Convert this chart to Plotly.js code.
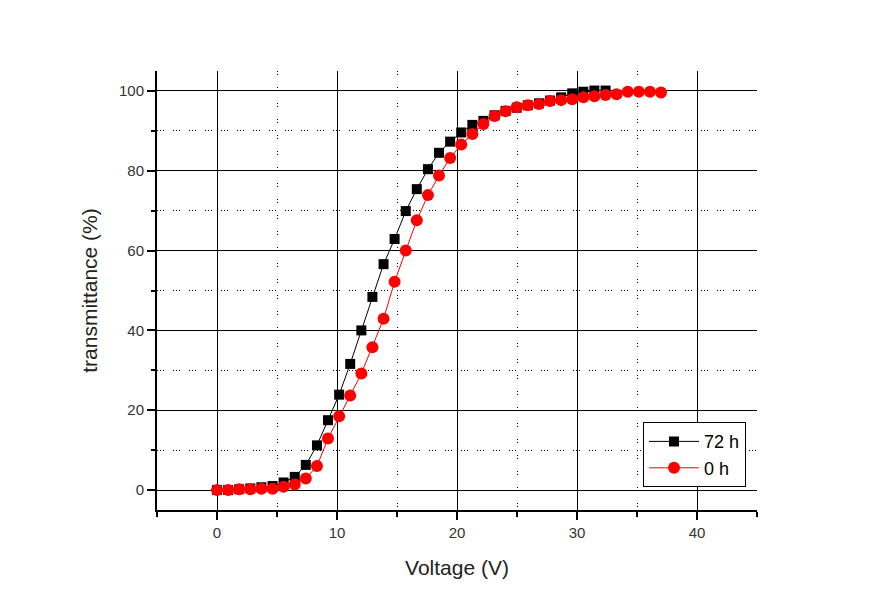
<!DOCTYPE html>
<html>
<head>
<meta charset="utf-8">
<script src="https://cdn.plot.ly/plotly-3.0.1.min.js"></script>
<style>
  html, body { margin: 0; padding: 0; background: #fff; }
  #myPlot { width: 877px; height: 613px; }
</style>
</head>
<body>
<div id="myPlot"></div>
<script>
// voltage steps (V)
var voltage = [0, 0.93, 1.85, 2.78, 3.7, 4.63, 5.55, 6.48, 7.4, 8.33,
               9.25, 10.18, 11.1, 12.03, 12.95, 13.88, 14.8, 15.73, 16.65, 17.58,
               18.5, 19.43, 20.35, 21.28, 22.2, 23.13, 24.05, 24.98, 25.9, 26.83,
               27.75, 28.68, 29.6, 30.53, 31.45, 32.38, 33.3, 34.23, 35.15, 36.08, 37];

// transmittance after 72 h
var t72 = [0, 0, 0.2, 0.4, 0.7, 1.0, 1.9, 3.3, 6.3, 11.2,
           17.5, 23.9, 31.6, 40.0, 48.4, 56.6, 62.9, 69.9, 75.4, 80.4,
           84.5, 87.3, 89.6, 91.5, 92.5, 93.9, 95.0, 95.8, 96.4, 96.9,
           97.6, 98.4, 99.4, 99.8, 100.1, 100.1];

// transmittance at 0 h
var t0 = [0, 0, 0.2, 0.2, 0.3, 0.3, 0.8, 1.4, 2.9, 6.0,
          12.9, 18.5, 23.7, 29.2, 35.8, 42.9, 52.2, 60.0, 67.6, 73.9,
          78.8, 83.2, 86.6, 89.2, 91.7, 93.7, 94.9, 95.9, 96.4, 96.7,
          97.5, 97.7, 97.9, 98.4, 98.7, 99.0, 99.2, 99.8, 99.8, 99.8, 99.6];

var seriesNames = ["72 h", "0 h"];

function draw_chart() {
    var font = "Arial, 'Liberation Sans', sans-serif";

    var data = [{
        x: voltage.slice(0, t72.length),
        y: t72,
        name: seriesNames[0],
        mode: "lines+markers",
        line: { color: "black", width: 1 },
        marker: { symbol: "square", size: 10, color: "black" }
    }, {
        x: voltage,
        y: t0,
        name: seriesNames[1],
        mode: "lines+markers",
        line: { color: "red", width: 1 },
        marker: { symbol: "circle", size: 12, color: "red" }
    }];

    var axisCommon = {
        showline: true,
        linecolor: "black",
        linewidth: 2,
        mirror: false,
        ticks: "outside",
        ticklen: 8,
        tickwidth: 2,
        tickcolor: "black",
        showgrid: true,
        gridcolor: "black",
        gridwidth: 1,
        zeroline: false,
        tickfont: { family: font, size: 15, color: "#333" }
    };

    var layout = {
        width: 877,
        height: 613,
        margin: { l: 157, r: 120, t: 71, b: 103 },
        paper_bgcolor: "white",
        plot_bgcolor: "white",
        font: { family: font, color: "black" },
        xaxis: Object.assign({}, axisCommon, {
            range: [-5, 45],
            dtick: 10,
            tick0: 0,
            minor: { dtick: 5, ticks: "outside", ticklen: 5, tickwidth: 2, tickcolor: "black",
                     showgrid: true, gridcolor: "black", gridwidth: 1, griddash: "1px,2px,1px,12px" },
            title: { text: "Voltage (V)", font: { family: font, size: 21, color: "#222" }, standoff: 20 }
        }),
        yaxis: Object.assign({}, axisCommon, {
            range: [-5, 105],
            dtick: 20,
            tick0: 0,
            minor: { dtick: 10, ticks: "outside", ticklen: 4, tickwidth: 2, tickcolor: "black",
                     showgrid: true, gridcolor: "black", gridwidth: 1, griddash: "1px,2px,1px,2px,1px,9px" },
            title: { text: "transmittance (%)", font: { family: font, size: 21, color: "#222" }, standoff: 16 }
        }),
        showlegend: true,
        legend: {
            x: 0.81, y: 0.2,
            xanchor: "left", yanchor: "top",
            bgcolor: "white",
            bordercolor: "black",
            borderwidth: 1,
            itemwidth: 50,
            font: { family: font, size: 18, color: "black" },
            tracegroupgap: 0
        }
    };

    Plotly.newPlot("myPlot", data, layout, { displayModeBar: false, staticPlot: true });
}

draw_chart();
</script>
</body>
</html>
